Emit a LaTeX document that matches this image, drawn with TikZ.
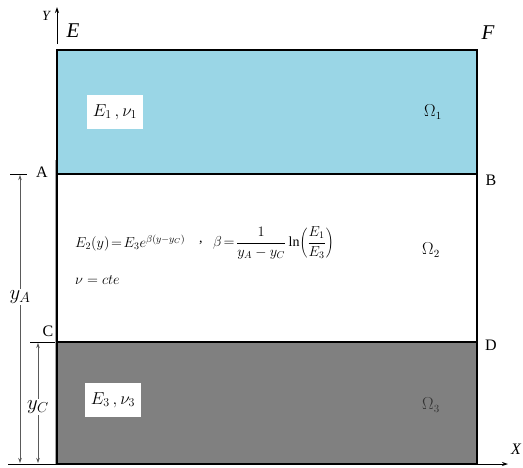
\documentclass[tikz,border=0pt]{standalone}
\usepackage{fontspec}
\setmainfont{Liberation Serif}
\usetikzlibrary{arrows.meta}
\definecolor{layerblue}{RGB}{154,214,230}
\definecolor{layergray}{RGB}{128,128,128}
\definecolor{dimgray}{RGB}{90,90,90}
\begin{document}
\begin{tikzpicture}[x=1pt,y=-1pt,
  wall/.style={line width=2.6pt},
  axisline/.style={line width=0.8pt,-{Stealth[length=6pt,width=4pt]}},
  dimline/.style={line width=0.6pt,dimgray,{Stealth[length=5pt,width=3.5pt]}-{Stealth[length=5pt,width=3.5pt]}},
  tick/.style={line width=0.8pt},
  ptlabel/.style={inner sep=0pt,font=\fontsize{16}{18}\selectfont},
  cornerlabel/.style={inner sep=0pt,font=\fontsize{21}{23}\selectfont\itshape},
  matbox/.style={fill=white,inner sep=0pt,minimum width=56pt,minimum height=34pt,font=\fontsize{17}{19}\selectfont},
  omega/.style={inner sep=0pt,font=\fontsize{16}{18}\selectfont},
  dimlabel/.style={fill=white,inner sep=2pt,font=\fontsize{20}{22}\selectfont},
  formula/.style={anchor=west,inner sep=0pt,font=\fontsize{14}{16}\selectfont}
]
\useasboundingbox (0,0) rectangle (523,467);
% corners
\coordinate (TL) at (57,50);
\coordinate (TR) at (477,50);
\coordinate (BL) at (57,464);
\coordinate (BR) at (477,464);
\coordinate (A) at (57,174);
\coordinate (B) at (477,174);
\coordinate (C) at (57,342);
\coordinate (D) at (477,342);
% fills
\fill[layerblue] (TL) rectangle (B);
\fill[layergray] (C) rectangle (BR);
% thin gray guide left of wall
\draw[line width=0.5pt,gray!70] (55,160) -- (55,464);
% walls
\draw[wall] (TL) rectangle (BR);
\draw[wall] (A) -- (B);
\draw[wall] (C) -- (D);
% axes
\coordinate (ybase) at (57,44);
\coordinate (ytip) at (57,7);
\coordinate (xtip) at (508,464);
\coordinate (bext) at (8,464);
\draw[axisline] (ybase) -- (ytip);
\draw[axisline] (BR) -- (xtip);
\draw[tick] (bext) -- (BL);
\node[inner sep=0pt,font=\fontsize{14}{16}\selectfont\itshape] (Ylab) at (46,16) {Y};
\node[inner sep=0pt,font=\fontsize{16}{18}\selectfont\itshape] (Xlab) at (516,449) {X};
\node[cornerlabel] (Elab) at (73,31) {E};
\node[cornerlabel] (Flab) at (488,33) {F};
% point labels
\node[ptlabel] (Alab) at (42,172) {A};
\node[ptlabel] (Blab) at (491,180) {B};
\node[ptlabel] (Clab) at (48,331) {C};
\node[ptlabel] (Dlab) at (491,345) {D};
% ticks for dimensions
\coordinate (Atick1) at (10,174);
\coordinate (Atick2) at (27,174);
\coordinate (Ctick1) at (30,342);
\coordinate (Ctick2) at (55,342);
\draw[tick] (Atick1) -- (Atick2);
\draw[tick] (Ctick1) -- (Ctick2);
% dimensions
\coordinate (yAtop) at (20,175);
\coordinate (yAbot) at (20,463);
\coordinate (yCtop) at (38,343);
\coordinate (yCbot) at (38,463);
\draw[dimline] (yAtop) -- (yAbot);
\draw[dimline] (yCtop) -- (yCbot);
\node[dimlabel] (yAlab) at (20,297) {$y_A$};
\node[dimlabel] (yClab) at (38,407) {$y_C$};
% material boxes
\node[matbox] (m1) at (115,112) {$E_1\,,\nu_1$};
\node[matbox] (m3) at (113,400) {$E_3\,,\nu_3$};
% omegas
\node[omega] (O1) at (433,112) {$\Omega_1$};
\node[omega] (O2) at (431,250) {$\Omega_2$};
\node[omega,text=black!80] (O3) at (431,405) {$\Omega_3$};
% formula
\node[formula] (f1) at (75,243) {$E_2(y)\!=\!E_3e^{\beta(y-y_C)}$};
\node[formula] (fc) at (199,243) {,};
\node[formula] (f1b) at (213,243)
  {$\displaystyle \beta\!=\!\frac{1}{y_A-y_C}\ln\!\left(\frac{E_1}{E_3}\right)$};
\node[formula] (f2) at (75,280) {$\nu=cte$};
\end{tikzpicture}
\end{document}
